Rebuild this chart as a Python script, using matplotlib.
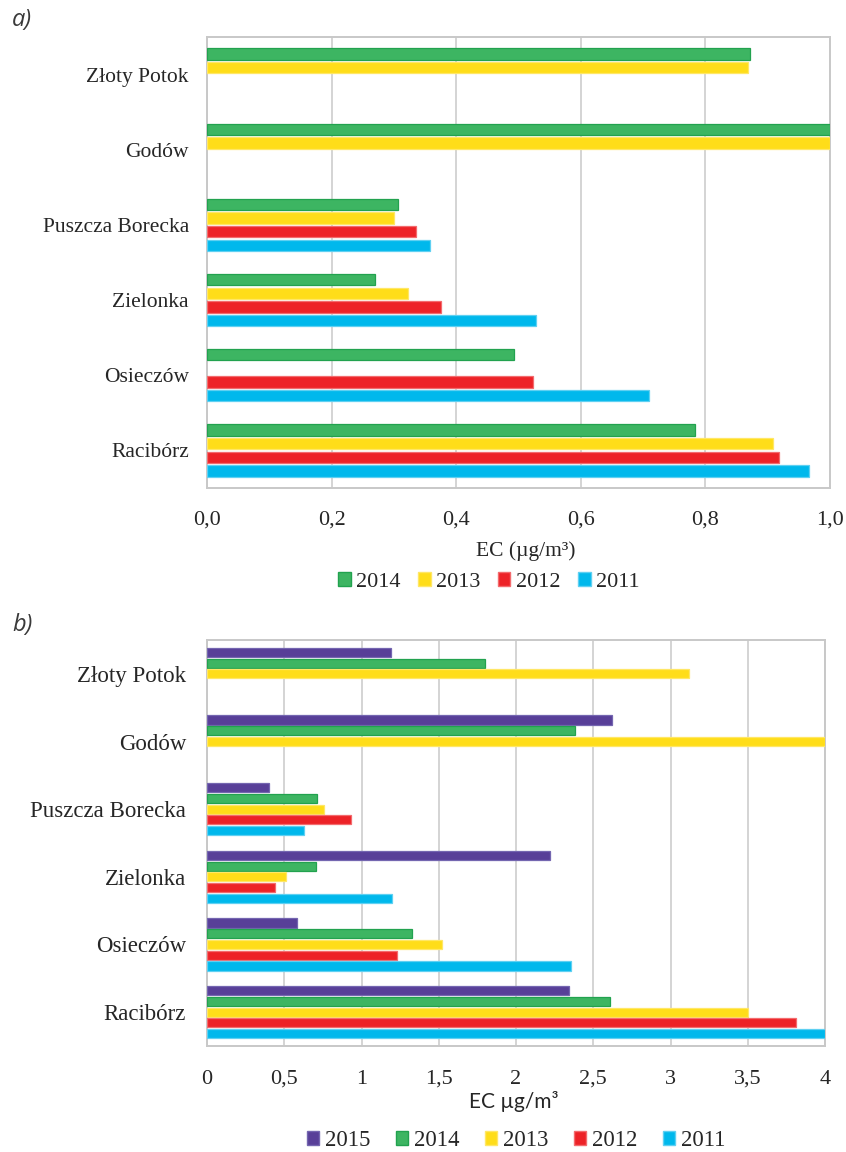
import matplotlib
matplotlib.use('Agg')
import numpy as np
import matplotlib.pyplot as plt
from matplotlib.patches import Patch

# station names, top to bottom
stations = ['Złoty Potok', 'Godów', 'Puszcza Borecka', 'Zielonka', 'Osieczów', 'Racibórz']

# panel a) EC, series listed top to bottom inside each group (nan = no bar)
years_a = ['2014', '2013', '2012', '2011']
ec_a_2014 = [0.871, 1.00, 0.307, 0.269, 0.492, 0.783]
ec_a_2013 = [0.869, 1.00, 0.300, 0.322, np.nan, 0.908]
ec_a_2012 = [np.nan, np.nan, 0.335, 0.375, 0.523, 0.918]
ec_a_2011 = [np.nan, np.nan, 0.358, 0.528, 0.710, 0.967]
xticks_a = [0.0, 0.2, 0.4, 0.6, 0.8, 1.0]
xticklabels_a = ['0,0', '0,2', '0,4', '0,6', '0,8', '1,0']

# panel b)
years_b = ['2015', '2014', '2013', '2012', '2011']
ec_b_2015 = [1.19, 2.62, 0.40, 2.22, 0.58, 2.34]
ec_b_2014 = [1.80, 2.38, 0.71, 0.705, 1.33, 2.61]
ec_b_2013 = [3.12, 4.00, 0.756, 0.51, 1.52, 3.50]
ec_b_2012 = [np.nan, np.nan, 0.93, 0.44, 1.233, 3.81]
ec_b_2011 = [np.nan, np.nan, 0.627, 1.196, 2.357, 4.00]
xticks_b = [0, 0.5, 1, 1.5, 2, 2.5, 3, 3.5, 4]
xticklabels_b = ['0', '0,5', '1', '1,5', '2', '2,5', '3', '3,5', '4']

colors = {'2015': '#583f98', '2014': '#3db562', '2013': '#ffdd19',
          '2012': '#ed2227', '2011': '#00b8ec'}
edges = {'2015': '#7466b0', '2014': '#22a24f', '2013': '#ffe766',
         '2012': '#f36b6e', '2011': '#5fd0f2'}

W, H = 846, 1152
fig = plt.figure(figsize=(W / 100, H / 100), dpi=100)
SERIF = 'Liberation Serif'
TXT = '#262626'


def px_axes(l, r, t, b):
    return fig.add_axes([l / W, 1 - b / H, (r - l) / W, (b - t) / H])


def draw_panel(ax, years, series, slot, bh, xmax, ticks, ticklabels, fs, tfs, pad_x, pad_y):
    n = len(stations)
    ns = len(years)
    ypos = np.arange(n)[::-1]
    for j, (yr, vals) in enumerate(zip(years, series)):
        off = (ns - 1) / 2 * slot - j * slot
        ax.barh(ypos + off, vals, height=bh, color=colors[yr],
                edgecolor=edges[yr], linewidth=0.9, zorder=3)
    ax.set_ylim(-0.5, n - 0.5)
    ax.set_xlim(0, xmax)
    ax.set_yticks(ypos)
    ax.set_yticklabels(stations, fontsize=fs, family=SERIF, color=TXT)
    ax.set_xticks(ticks)
    ax.set_xticklabels(ticklabels, fontsize=tfs, family=SERIF, color=TXT)
    ax.tick_params(axis='both', length=0)
    ax.tick_params(axis='x', pad=pad_x)
    ax.tick_params(axis='y', pad=pad_y)
    ax.grid(axis='x', color='#d4d4d4', linewidth=1.4, zorder=0)
    for s in ax.spines.values():
        s.set_color('#c8c8c8')
        s.set_linewidth(1.4)


# ---- panel a
ax1 = px_axes(207, 830, 37, 488)
draw_panel(ax1, years_a, [ec_a_2014, ec_a_2013, ec_a_2012, ec_a_2011],
           0.182, 0.152, 1.0, xticks_a, xticklabels_a, 15.5, 16, 16, 13)
fig.text(12 / W, 1 - 20 / H, 'a)', fontsize=17, style='italic',
         family='Open Sans', color='#3a3a3a', ha='left', va='center')
fig.text(526 / W, 1 - 551 / H, 'EC (µg/m³)', fontsize=15.5, family=SERIF,
         color=TXT, ha='center', va='center')
h_a = [Patch(facecolor=colors[y], edgecolor=edges[y]) for y in years_a]
fig.legend(h_a, years_a, loc='center', bbox_to_anchor=(489 / W, 1 - 582 / H),
           ncol=4, frameon=False, prop={'family': SERIF, 'size': 16},
           handlelength=0.55, handleheight=0.55, handletextpad=0.25,
           columnspacing=0.8, labelcolor=TXT)

# ---- panel b
ax2 = px_axes(207, 825, 640, 1046)
draw_panel(ax2, years_b, [ec_b_2015, ec_b_2014, ec_b_2013, ec_b_2012, ec_b_2011],
           0.159, 0.134, 4.0, xticks_b, xticklabels_b, 16.5, 16, 17, 15)
fig.text(12 / W, 1 - 625 / H, 'b)', fontsize=17, style='italic',
         family='Open Sans', color='#3a3a3a', ha='left', va='center')
fig.text(514 / W, 1 - 1101 / H, 'EC µg/m³', fontsize=15, family='Lato',
         color=TXT, ha='center', va='center')
h_b = [Patch(facecolor=colors[y], edgecolor=edges[y]) for y in years_b]
fig.legend(h_b, years_b, loc='center', bbox_to_anchor=(516 / W, 1 - 1141 / H),
           ncol=5, frameon=False, prop={'family': SERIF, 'size': 16.5},
           handlelength=0.55, handleheight=0.55, handletextpad=0.25,
           columnspacing=1.1, labelcolor=TXT)

fig.savefig('out.png', dpi=100, facecolor='white')
